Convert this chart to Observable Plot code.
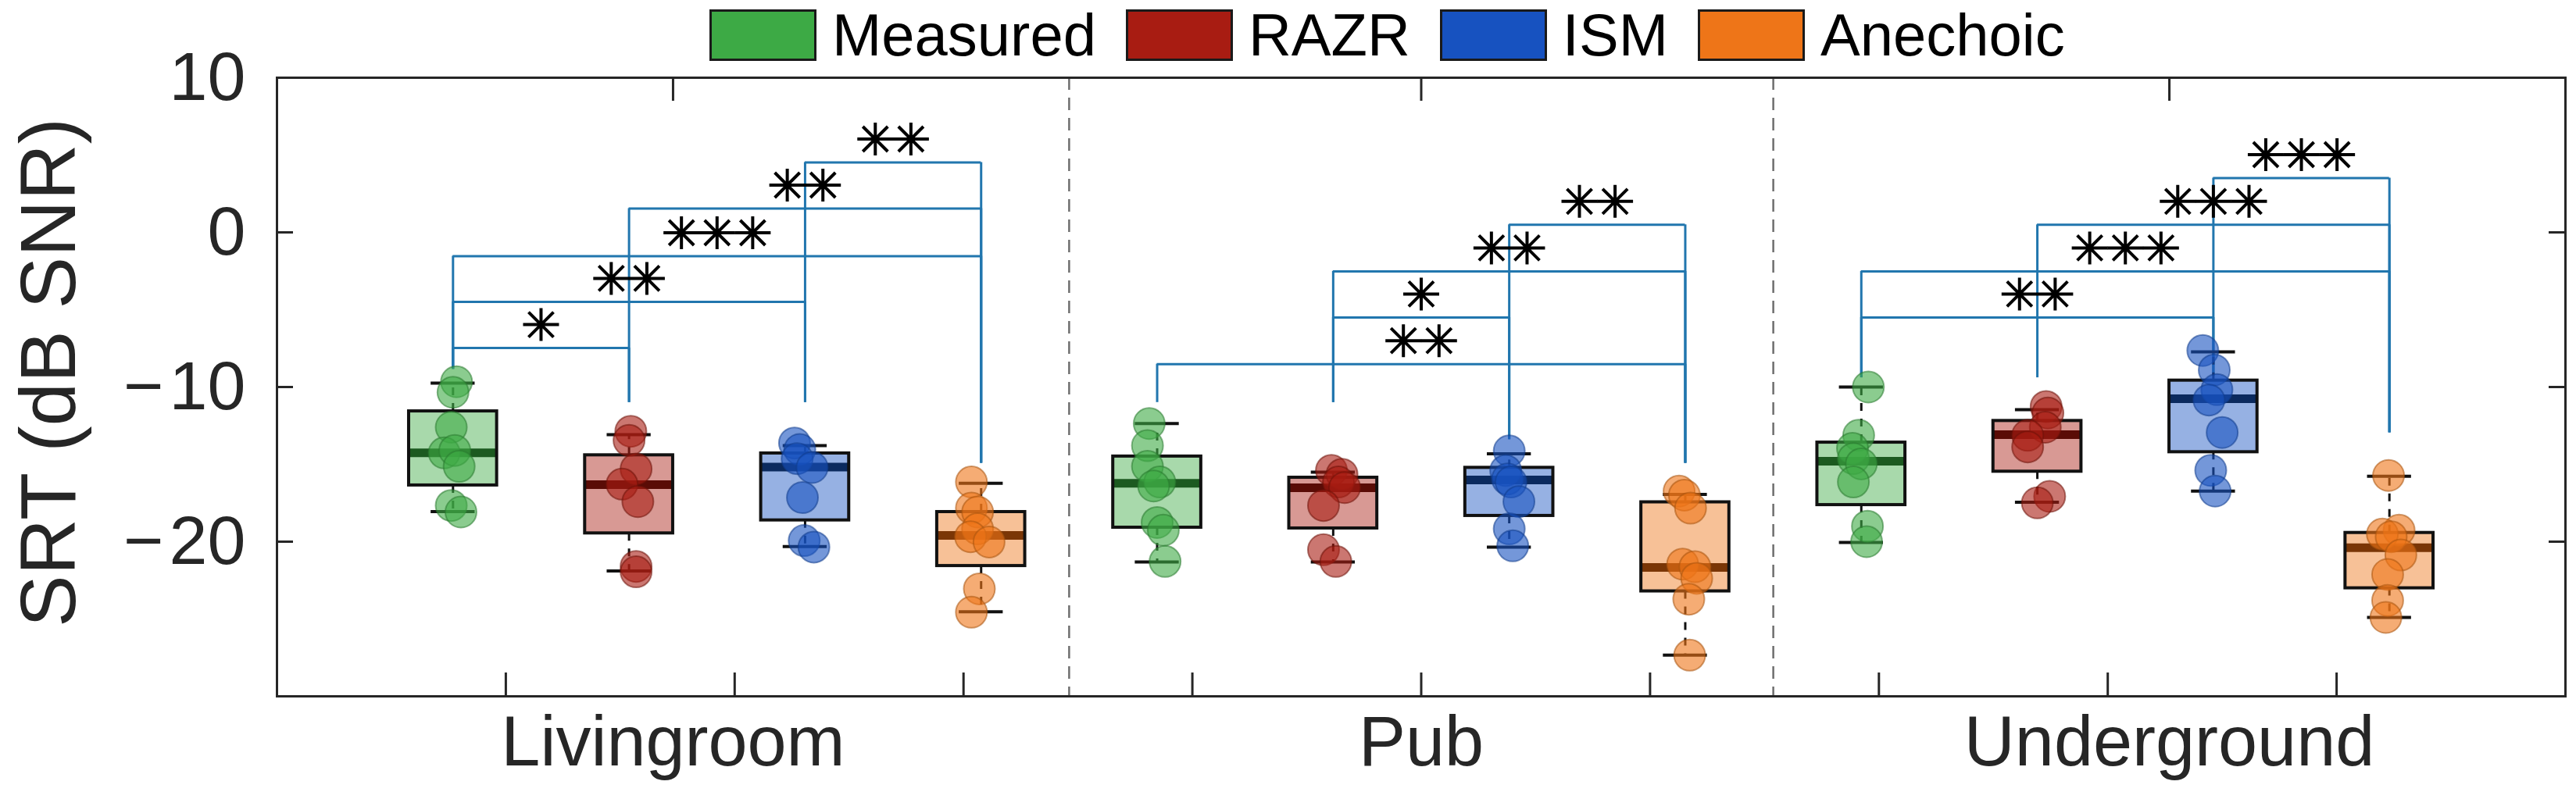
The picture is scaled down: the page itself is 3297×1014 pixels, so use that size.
<!DOCTYPE html>
<html><head><meta charset="utf-8">
<script src="https://cdn.jsdelivr.net/npm/d3@7"></script>
<script src="https://cdn.jsdelivr.net/npm/@observablehq/plot@0.6"></script>
<style>
body{margin:0;background:#fff;font-family:"Liberation Sans",Arial,Helvetica,sans-serif;}
#wrap{position:relative;width:3297px;height:1014px;}
#legend{position:relative;z-index:2;height:60px;display:flex;align-items:flex-start;padding-left:908px;}
.item{display:flex;align-items:center;margin-right:38px;margin-top:12px;height:66px;}
.sw{width:131px;height:60px;border:3px solid #1a1a1a;margin-right:20px;}
.lab{font-size:76px;color:#000;line-height:66px;white-space:nowrap;}
#ylabel{position:absolute;z-index:3;left:61px;top:477px;transform:translate(-50%,-50%) rotate(-90deg);
  font-size:100px;line-height:100px;color:#262626;white-space:nowrap;}
#chart svg{overflow:visible;}
</style></head><body>
<div id="wrap">
<div id="legend"></div>
<div id="ylabel"></div>
<div id="chart"></div>
</div>
<script>
// ---- data ----
const rooms = ["Livingroom", "Pub", "Underground"];
const methods = ["Measured", "RAZR", "ISM", "Anechoic"];
const yLabel = "SRT (dB SNR)";
const methodColors = ["#3DAA45", "#A81C12", "#1752C0", "#EE7518"];
const medianColors = ["#1C5A20", "#5A0C06", "#0B2A5E", "#7A3606"];
const edgeColors = ["#2A7A30", "#6E120A", "#103C8C", "#A8540E"];

// box statistics, one entry per room × method (Livingroom M,R,I,A, Pub ..., Underground ...)
const boxLow    = [-18.05, -21.9, -20.32, -24.53, -21.31, -21.31, -20.35, -27.34, -20.05, -17.45, -16.73, -24.9];
const boxQ1     = [-16.36, -19.46, -18.62, -21.57, -19.09, -19.14, -18.33, -23.21, -17.63, -15.47, -14.21, -23.01];
const boxMedian = [-14.26, -16.31, -15.18, -19.6, -16.23, -16.52, -16.01, -21.67, -14.8, -13.08, -10.76, -20.39];
const boxQ3     = [-11.57, -14.41, -14.29, -18.08, -14.49, -15.86, -15.22, -17.45, -13.59, -12.19, -9.58, -19.43];
const boxHigh   = [-9.75, -13.08, -13.79, -16.23, -12.36, -15.51, -14.32, -16.95, -10.0, -11.46, -7.73, -15.77];

// individual SRTs (dB SNR)
const srtValues = [
  [-9.66, -10.34, -12.6, -14.26, -14.1, -15.13, -17.66, -18.08],
  [-12.86, -13.45, -15.3, -16.28, -17.41, -21.6, -21.95],
  [-13.62, -14.04, -14.63, -15.2, -17.15, -19.93, -20.35],
  [-16.14, -17.83, -18.08, -19.17, -19.68, -20.02, -23.05, -24.56],
  [-12.36, -13.79, -15.13, -16.14, -16.4, -18.76, -19.26, -21.28],
  [-15.39, -15.64, -16.14, -16.5, -17.66, -20.52, -21.28],
  [-14.13, -15.4, -15.95, -16.14, -17.41, -19.17, -20.27],
  [-16.73, -16.99, -17.83, -21.45, -21.62, -22.37, -23.72, -27.34],
  [-10.0, -13.12, -13.96, -14.63, -14.97, -16.14, -19.0, -20.0],
  [-11.26, -11.68, -12.6, -13.12, -13.87, -17.07, -17.49],
  [-7.64, -8.9, -10.17, -10.84, -12.94, -15.39, -16.73],
  [-15.72, -19.26, -19.51, -19.68, -20.86, -22.12, -23.8, -24.9]
];
// horizontal scatter of each point, in box-spacing units
const srtJitter = [
  [0.02, 0, -0.01, -0.05, 0.01, 0.035, -0.01, 0.045],
  [0.01, 0, 0.04, -0.04, 0.05, 0.04, 0.04],
  [-0.06, -0.03, -0.045, 0.04, -0.015, -0.005, 0.05],
  [-0.055, -0.055, -0.02, -0.02, -0.06, 0.045, -0.01, -0.055],
  [-0.045, -0.055, -0.055, 0.015, -0.02, 0, 0.035, 0.045],
  [-0.01, 0.05, 0.03, 0.065, -0.055, -0.055, 0.015],
  [0, -0.02, -0.01, 0.01, 0.055, 0, 0.02],
  [-0.035, -0.005, 0.03, -0.015, 0.055, 0.065, 0.02, 0.025],
  [0.04, -0.015, -0.05, -0.045, 0, -0.045, 0.035, 0.03],
  [0.05, 0.06, 0.045, -0.055, -0.055, 0.07, 0],
  [-0.06, 0.005, 0.02, -0.025, 0.05, -0.015, 0.01],
  [-0.005, 0.055, -0.04, 0.01, 0.065, -0.01, -0.01, -0.02]
];

// significance brackets
const bracketRoom  = [0, 0, 0, 0, 0, 1, 1, 1, 1, 2, 2, 2, 2];
const bracketFrom  = [0, 0, 0, 1, 2, 0, 1, 1, 2, 0, 0, 1, 2];
const bracketTo    = [1, 2, 3, 3, 3, 3, 2, 3, 3, 2, 3, 3, 3];
const bracketLevel = [-7.48, -4.49, -1.54, 1.54, 4.52, -8.52, -5.5, -2.52, 0.49, -5.5, -2.52, 0.49, 3.51];
const bracketStars = [1, 2, 3, 2, 2, 2, 1, 2, 2, 2, 3, 3, 3];
// lower end of the bracket legs above each box
const legEnd = [-8.85, -11, -11, -14.93, -11, -11, -13.4, -14.93, -9.4, -9.4, -9.3, -12.95];

// axis ticks
const yTicks = [10, 0, -10, -20];
const bottomTicks = [1.3, 2.6, 3.9, 5.2, 6.5, 7.8, 9.1, 10.4, 11.7];
const roomLabelX = [2.25, 6.5, 10.75];
const separators = [4.5, 8.5];

// ---- legend & y label (outside the SVG) ----
const legend = document.getElementById("legend");
methods.forEach((m, i) => {
  const it = document.createElement("div"); it.className = "item";
  const sw = document.createElement("div"); sw.className = "sw"; sw.style.background = methodColors[i];
  const lb = document.createElement("span"); lb.className = "lab"; lb.textContent = m;
  it.appendChild(sw); it.appendChild(lb); legend.appendChild(it);
});
document.getElementById("ylabel").textContent = yLabel;

// ---- derived tables ----
const boxes = d3.range(12).map(k => ({
  k, room: Math.floor(k / 4), m: k % 4, x: k + 1,
  lo: boxLow[k], q1: boxQ1[k], med: boxMedian[k], q3: boxQ3[k], hi: boxHigh[k]
}));
const points = boxes.flatMap(b => srtValues[b.k].map((v, i) => ({x: b.x + srtJitter[b.k][i], v, m: b.m})));
const brackets = bracketRoom.map((r, i) => {
  const a = r * 4 + bracketFrom[i], b = r * 4 + bracketTo[i];
  return {xa: a + 1, xb: b + 1, la: legEnd[a], lb: legEnd[b], level: bracketLevel[i], n: bracketStars[i]};
});
const legs = brackets.flatMap(d => [{x: d.xa, y1: d.la, y2: d.level}, {x: d.xb, y1: d.lb, y2: d.level}]);
const starStep = 0.2024;
const stars = brackets.flatMap(d => d3.range(d.n).map(k => ({x: (d.xa + d.xb) / 2 + (k - (d.n - 1) / 2) * starStep, y: d.level})));

const starSymbol = {
  draw(ctx) {
    const a = 23, b = 21, c = 16;
    ctx.moveTo(-a, 0); ctx.lineTo(a, 0);
    ctx.moveTo(0, -b); ctx.lineTo(0, b);
    ctx.moveTo(-c, -c); ctx.lineTo(c, c);
    ctx.moveTo(-c, c); ctx.lineTo(c, -c);
  }
};

const legendH = 60;
const H = 1014 - legendH;
const tickLenX = 21 / 225.3;   // inner tick length in x units
const tickLenY = 30 / 19.8;    // inner tick length in y units
const bw = 0.25, cap = 0.125;
const bracketColor = "#2176AE";
const ink = "#262626";

const chart = Plot.plot({
  width: 3297, height: H,
  marginTop: 99 - legendH, marginBottom: H - (891 - legendH), marginLeft: 354, marginRight: 14,
  style: {background: "transparent", fontFamily: "'Liberation Sans', Arial, sans-serif", fontSize: "88px", color: ink},
  x: {domain: [0, 13], axis: null},
  y: {domain: [-30, 10], ticks: yTicks, tickSize: 0, tickPadding: 40, label: null,
      tickFormat: d => d < 0 ? "\u2212\u200A" + Math.abs(d) : String(d)},
  color: {type: "identity"},
  marks: [
    Plot.ruleX(separators, {stroke: "#6e6e6e", strokeWidth: 2.5, strokeDasharray: "16,10"}),
    // brackets
    Plot.ruleX(legs, {x: "x", y1: "y1", y2: "y2", stroke: bracketColor, strokeWidth: 3}),
    Plot.ruleY(brackets, {y: "level", x1: "xa", x2: "xb", stroke: bracketColor, strokeWidth: 3}),
    // whiskers
    Plot.ruleX(boxes, {x: "x", y1: "q3", y2: "hi", stroke: "#111", strokeWidth: 3, strokeDasharray: "10,10"}),
    Plot.ruleX(boxes, {x: "x", y1: "q1", y2: "lo", stroke: "#111", strokeWidth: 3, strokeDasharray: "10,10"}),
    Plot.ruleY(boxes, {y: "hi", x1: d => d.x - cap, x2: d => d.x + cap, stroke: "#111", strokeWidth: 4}),
    Plot.ruleY(boxes, {y: "lo", x1: d => d.x - cap, x2: d => d.x + cap, stroke: "#111", strokeWidth: 4}),
    // boxes
    Plot.rect(boxes, {x1: d => d.x - bw, x2: d => d.x + bw, y1: "q1", y2: "q3", fill: d => methodColors[d.m], fillOpacity: 0.45}),
    Plot.ruleY(boxes, {y: "med", x1: d => d.x - bw, x2: d => d.x + bw, stroke: d => medianColors[d.m], strokeWidth: 11}),
    Plot.rect(boxes, {x1: d => d.x - bw, x2: d => d.x + bw, y1: "q1", y2: "q3", fill: "none", stroke: "#111", strokeWidth: 4}),
    // points
    Plot.dot(points, {x: "x", y: "v", r: 20, fill: d => methodColors[d.m], fillOpacity: 0.6,
      stroke: d => edgeColors[d.m], strokeOpacity: 0.55, strokeWidth: 2}),
    // significance stars
    Plot.dot(stars, {x: "x", y: "y", dy: -30, r: 10, symbol: starSymbol, fill: "none", stroke: "#000", strokeWidth: 4}),
    // frame & ticks
    Plot.frame({stroke: ink, strokeWidth: 3}),
    Plot.ruleY(yTicks.slice(1), {x1: 0, x2: tickLenX, stroke: ink, strokeWidth: 3}),
    Plot.ruleY(yTicks.slice(1), {x1: 13 - tickLenX, x2: 13, stroke: ink, strokeWidth: 3}),
    Plot.ruleX(bottomTicks, {y1: -30, y2: -30 + tickLenY, stroke: ink, strokeWidth: 3}),
    Plot.ruleX(roomLabelX, {y1: 10, y2: 10 - tickLenY, stroke: ink, strokeWidth: 3}),
    // category labels
    Plot.text(rooms, {x: (d, i) => roomLabelX[i], text: d => d, frameAnchor: "bottom", dy: 88, fontSize: 90, fill: ink})
  ]
});
document.getElementById("chart").appendChild(chart);
</script></body></html>
